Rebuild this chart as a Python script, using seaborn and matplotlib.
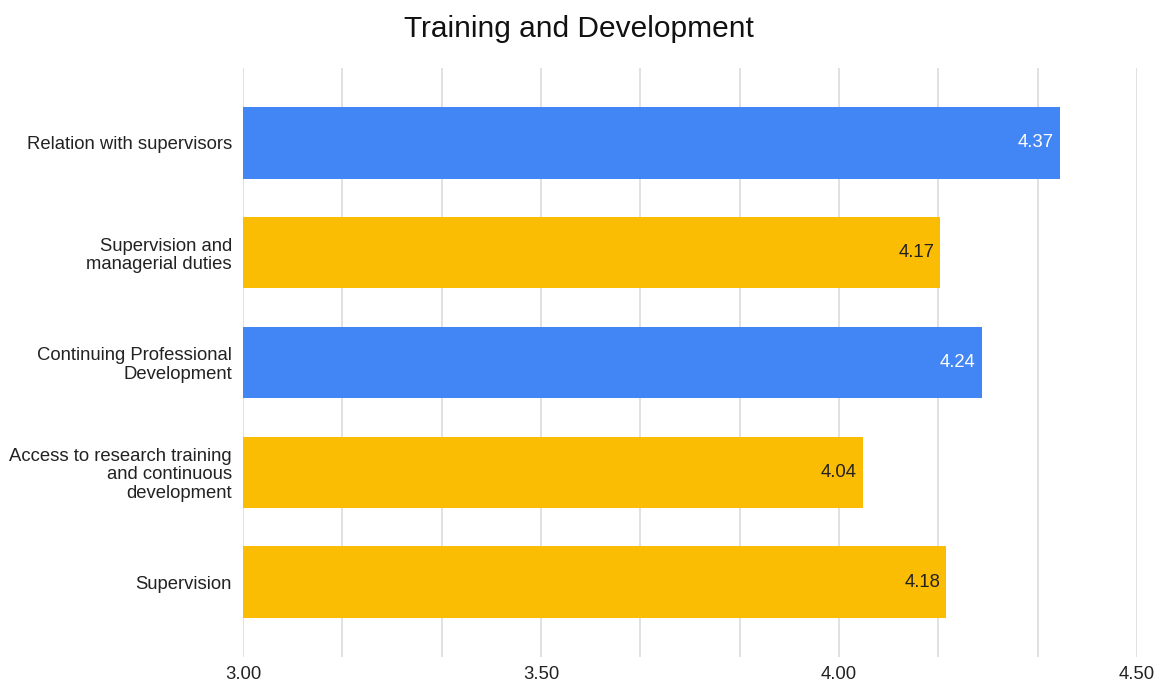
import matplotlib
matplotlib.use("Agg")
import matplotlib.pyplot as plt
from matplotlib.ticker import MultipleLocator, FixedLocator, FuncFormatter
import seaborn as sns
import pandas as pd

categories = [
    "Relation with supervisors",
    "Supervision and\nmanagerial duties",
    "Continuing Professional\nDevelopment",
    "Access to research training\nand continuous\ndevelopment",
    "Supervision",
]
scores = [4.37, 4.17, 4.24, 4.04, 4.18]
groups = ["blue", "yellow", "blue", "yellow", "yellow"]
palette = {"blue": "#4285F4", "yellow": "#FBBC04"}
label_colors = {"blue": "white", "yellow": "#222222"}
x_ticks = [3.00, 3.50, 4.00, 4.50]

sns.set_theme(style="white")
plt.rcParams["font.family"] = ["Liberation Sans", "DejaVu Sans"]

df = pd.DataFrame({"category": categories, "score": scores, "group": groups})

fig = plt.figure(figsize=(11.57, 6.82), dpi=100)
ax = fig.add_axes([0.210, 0.037, 0.7727, 0.863])

sns.barplot(data=df, x="score", y="category", hue="group", palette=palette,
            order=categories, dodge=False, width=0.65, legend=False, ax=ax,
            saturation=1, linewidth=0)

ax.set_xlim(3.0, 4.5)
ax.set_ylim(4.68, -0.68)
ax.xaxis.set_major_locator(FixedLocator(x_ticks))
ax.xaxis.set_minor_locator(MultipleLocator(1.5 / 9))
ax.xaxis.set_major_formatter(FuncFormatter(lambda v, p: f"{v:.2f}"))
ax.grid(True, axis="x", which="both", color="#d9d9d9", linewidth=1.1)
ax.set_axisbelow(True)
for s in ax.spines.values():
    s.set_visible(False)
ax.tick_params(axis="x", which="both", length=0, labelsize=13.3, colors="#222222", pad=7)
ax.tick_params(axis="y", length=0, labelsize=13.3, colors="#222222", pad=8)
for lbl in ax.get_yticklabels():
    lbl.set_horizontalalignment("right")
    lbl.set_multialignment("right")
    lbl.set_linespacing(1.1)
ax.set_xlabel("")
ax.set_ylabel("")

for i, (v, g) in enumerate(zip(scores, groups)):
    ax.annotate(f"{v:.2f}", xy=(v, i), xytext=(-4.5, 0), textcoords="offset points",
                ha="right", va="center", fontsize=13.3, color=label_colors[g])

fig.text(0.5, 0.958, "Training and Development", ha="center", va="center",
         fontsize=21.5, color="#111111")

fig.savefig("out.png", dpi=100)
